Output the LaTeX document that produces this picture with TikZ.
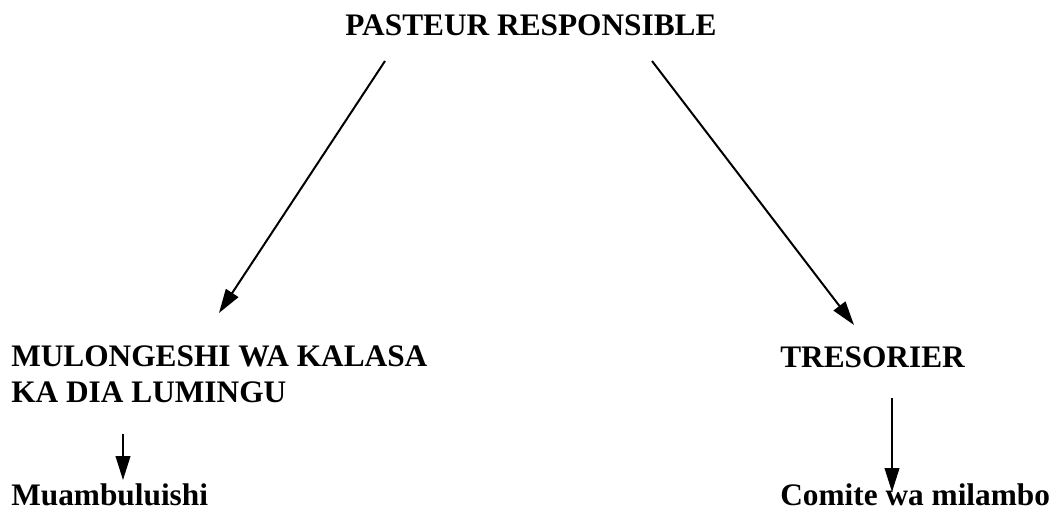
\documentclass[tikz,border=0pt]{standalone}
\usepackage{fontspec}
\setmainfont{Liberation Serif}
\usetikzlibrary{arrows.meta,calc}
\begin{document}
\begin{tikzpicture}[x=0.75pt,y=-0.75pt,
  lbl/.style={font=\bfseries\fontsize{23.5}{27}\selectfont, inner sep=0pt, anchor=base west, align=left},
  arr/.style={line width=1.5pt, -{Triangle[length=18pt,width=11pt]}}]
\useasboundingbox (0,0) rectangle (1056,514);
\node[lbl, anchor=base] (p) at (531,35) {PASTEUR RESPONSIBLE};
\node[lbl] (m) at (11,402) {MULONGESHI WA KALASA\\KA DIA LUMINGU};
\node[lbl] (t) at (780,367) {TRESORIER};
\node[lbl] (mu) at (11,505) {Muambuluishi};
\node[lbl] (c) at (780,505) {Comite wa milambo};
\draw[arr] ($(p.base)+(-146,26)$) -- ($(m.base west)+(208,-89)$);
\draw[arr] ($(p.base)+(121,26)$) -- ($(t.base west)+(74,-42)$);
\draw[arr] ($(m.base west)+(112,32)$) -- ($(mu.base west)+(112,-25)$);
\draw[arr] ($(t.base west)+(112,31)$) -- ($(c.base west)+(112,-13)$);
\end{tikzpicture}
\end{document}
